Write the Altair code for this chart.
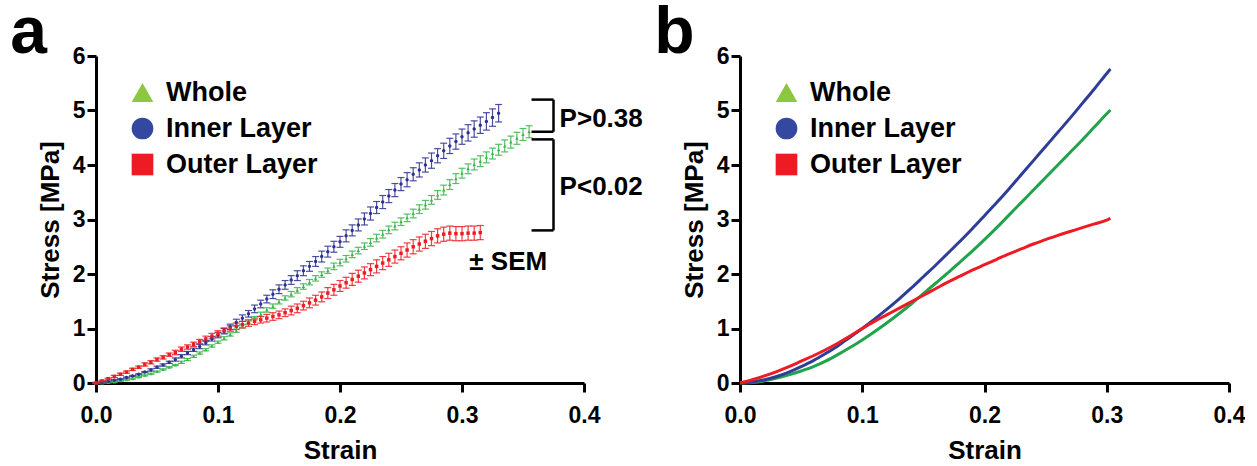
import altair as alt
import pandas as pd

FONT = "Liberation Sans"
series_names = ["Whole", "Inner Layer", "Outer Layer"]
colors_a = ["#3AB54A", "#2E3192", "#ED1C24"]
colors_b = ["#22A24A", "#2E3D98", "#ED1C24"]
colors_legend = ["#8DC63F", "#3548A0", "#ED1C24"]
shapes = ["triangle-up", "circle", "square"]

# ---- panel a: mean stress and SEM, sampled every 0.005 strain ----
whole_a = [0, 0.00, 0.01, 0.02, 0.04, 0.06, 0.08, 0.11, 0.14, 0.17,
           0.21, 0.25, 0.29, 0.33, 0.38, 0.43, 0.49, 0.55, 0.61, 0.68,
           0.75, 0.82, 0.89, 0.96, 1.04, 1.11, 1.19, 1.26, 1.34, 1.41,
           1.49, 1.56, 1.63, 1.70, 1.77, 1.85, 1.92, 1.99, 2.06, 2.14,
           2.21, 2.28, 2.36, 2.43, 2.51, 2.58, 2.66, 2.73, 2.81, 2.88,
           2.96, 3.03, 3.11, 3.19, 3.27, 3.36, 3.45, 3.54, 3.64, 3.75,
           3.85, 3.93, 4.01, 4.07, 4.14, 4.21, 4.28, 4.35, 4.42, 4.49,
           4.56, 4.61]
whole_sem = [0.01] * 10 + [
           0.01, 0.01, 0.01, 0.01, 0.02, 0.02, 0.02, 0.02, 0.02, 0.02,
           0.02, 0.03, 0.03, 0.03, 0.03, 0.03, 0.03, 0.04, 0.04, 0.04,
           0.04, 0.04, 0.05, 0.05, 0.05, 0.05, 0.05, 0.05, 0.05, 0.06,
           0.06, 0.06, 0.06, 0.06, 0.06, 0.07, 0.07, 0.07, 0.07, 0.07,
           0.07, 0.07, 0.08, 0.08, 0.08, 0.08, 0.08, 0.09, 0.09, 0.09,
           0.09, 0.09, 0.10, 0.10, 0.10, 0.10, 0.10, 0.11, 0.11, 0.11,
           0.11, 0.11]
inner_a = [0, 0.01, 0.03, 0.05, 0.07, 0.10, 0.13, 0.16, 0.20, 0.24,
           0.29, 0.33, 0.38, 0.43, 0.49, 0.55, 0.61, 0.67, 0.74, 0.81,
           0.88, 0.95, 1.03, 1.11, 1.19, 1.27, 1.36, 1.45, 1.54, 1.63,
           1.72, 1.80, 1.89, 1.97, 2.06, 2.14, 2.23, 2.32, 2.41, 2.50,
           2.59, 2.70, 2.80, 2.90, 3.01, 3.11, 3.22, 3.32, 3.43, 3.54,
           3.65, 3.73, 3.83, 3.91, 4.00, 4.08, 4.17, 4.26, 4.35, 4.43,
           4.52, 4.59, 4.66, 4.73, 4.80, 4.87, 4.95]
inner_sem = [0.01, 0.01, 0.01, 0.01, 0.01, 0.01, 0.01, 0.01, 0.01, 0.02,
             0.02, 0.02, 0.02, 0.03, 0.03, 0.03, 0.03, 0.04, 0.04, 0.04,
             0.05, 0.05, 0.05, 0.06, 0.06, 0.06, 0.07, 0.07, 0.07, 0.08,
             0.08, 0.08, 0.08, 0.09, 0.09, 0.09, 0.09, 0.10, 0.10, 0.10,
             0.10, 0.11, 0.10, 0.11, 0.11, 0.12, 0.11, 0.12, 0.12, 0.12,
             0.12, 0.13, 0.12, 0.13, 0.13, 0.14, 0.13, 0.14, 0.14, 0.14,
             0.14, 0.15, 0.15, 0.15, 0.16, 0.16, 0.16]
outer_a = [0, 0.04, 0.08, 0.12, 0.16, 0.20, 0.25, 0.29, 0.34, 0.38,
           0.43, 0.47, 0.52, 0.56, 0.62, 0.66, 0.71, 0.76, 0.81, 0.86,
           0.91, 0.96, 1.00, 1.04, 1.07, 1.10, 1.13, 1.16, 1.19, 1.22,
           1.25, 1.29, 1.33, 1.37, 1.42, 1.47, 1.52, 1.58, 1.65, 1.71,
           1.78, 1.84, 1.90, 1.96, 2.02, 2.08, 2.14, 2.20, 2.26, 2.32,
           2.38, 2.44, 2.50, 2.55, 2.60, 2.65, 2.70, 2.73, 2.75, 2.74,
           2.74, 2.75, 2.75, 2.76]
outer_sem = [0.01, 0.01, 0.01, 0.02, 0.02, 0.02, 0.02, 0.02, 0.03, 0.03,
             0.03, 0.03, 0.03, 0.04, 0.04, 0.04, 0.04, 0.04, 0.05, 0.05,
             0.05, 0.05, 0.05, 0.06, 0.06, 0.06, 0.06, 0.06, 0.07, 0.07,
             0.07, 0.07, 0.08, 0.08, 0.08, 0.09, 0.09, 0.09, 0.10, 0.10,
             0.10, 0.10, 0.11, 0.11, 0.11, 0.11, 0.12, 0.12, 0.12, 0.12,
             0.12, 0.13, 0.13, 0.13, 0.13, 0.13, 0.13, 0.13, 0.13, 0.13,
             0.13, 0.13, 0.13, 0.13]

# ---- panel b: fitted curves, sampled every 0.01 strain ----
strain_b = [0.00, 0.01, 0.02, 0.03, 0.04, 0.05, 0.06, 0.07, 0.08, 0.09,
            0.10, 0.11, 0.12, 0.13, 0.14, 0.15, 0.16, 0.17, 0.18, 0.19,
            0.20, 0.21, 0.22, 0.23, 0.24, 0.25, 0.26, 0.27, 0.28, 0.29,
            0.30, 0.303]
whole_b = [0.00, 0.01, 0.04, 0.09, 0.15, 0.22, 0.30, 0.40, 0.52, 0.65,
           0.79, 0.94, 1.10, 1.27, 1.45, 1.64, 1.83, 2.02, 2.22, 2.42,
           2.63, 2.85, 3.08, 3.31, 3.54, 3.77, 4.00, 4.23, 4.46, 4.70,
           4.94, 5.01]
inner_b = [0.00, 0.02, 0.06, 0.12, 0.20, 0.30, 0.41, 0.54, 0.68, 0.84,
           1.00, 1.17, 1.35, 1.54, 1.74, 1.95, 2.16, 2.38, 2.60, 2.83,
           3.07, 3.31, 3.56, 3.82, 4.08, 4.34, 4.60, 4.86, 5.13, 5.40,
           5.68, 5.76]
outer_b = [0.00, 0.06, 0.13, 0.21, 0.30, 0.40, 0.50, 0.61, 0.73, 0.86,
           1.00, 1.13, 1.25, 1.37, 1.49, 1.61, 1.73, 1.85, 1.96, 2.07,
           2.17, 2.27, 2.37, 2.46, 2.55, 2.63, 2.71, 2.78, 2.85, 2.92,
           2.99, 3.02]

# ---- annotations of panel a ----
bracket_labels = ["P>0.38", "P<0.02"]
bracket_top = [5.20, 4.47]
bracket_bottom = [4.61, 2.80]
sem_label = "± SEM"


def sampled(name, means, sems, step=0.005):
    # sampling grid of the measurement points
    return pd.DataFrame({
        "series": name,
        "strain": [round(i * step, 3) for i in range(len(means))],
        "stress": means,
        "sem": sems,
    })


df_a = pd.concat([
    sampled("Whole", whole_a, whole_sem),
    sampled("Inner Layer", inner_a, inner_sem),
    sampled("Outer Layer", outer_a, outer_sem),
], ignore_index=True)

df_b = pd.concat([
    pd.DataFrame({"series": "Whole", "strain": strain_b, "stress": whole_b}),
    pd.DataFrame({"series": "Inner Layer", "strain": strain_b, "stress": inner_b}),
    pd.DataFrame({"series": "Outer Layer", "strain": strain_b, "stress": outer_b}),
], ignore_index=True)

x_left, x_right = 0.357, 0.375
df_br = pd.DataFrame({
    "x": [x_left, x_left, x_right, x_left, x_left, x_right],
    "x2": [x_right, x_right, x_right, x_right, x_right, x_right],
    "y": [bracket_top[0], bracket_bottom[0], bracket_top[0],
          bracket_top[1], bracket_bottom[1], bracket_top[1]],
    "y2": [bracket_top[0], bracket_bottom[0], bracket_bottom[0],
           bracket_top[1], bracket_bottom[1], bracket_bottom[1]],
})
df_txt = pd.DataFrame({
    "x": [0.380, 0.380, 0.306],
    "y": [(bracket_top[0] + bracket_bottom[0]) / 2 - 0.07,
          (bracket_top[1] + bracket_bottom[1]) / 2 - 0.03, 2.22],
    "label": bracket_labels + [sem_label],
})

xscale = alt.Scale(domain=[0, 0.4], nice=False)
yscale = alt.Scale(domain=[0, 6], nice=False)
xaxis = alt.Axis(values=[0, 0.1, 0.2, 0.3, 0.4], format=".1f", title="Strain",
                 labelFlush=False)
yaxis = alt.Axis(values=[0, 1, 2, 3, 4, 5, 6], format="d", title="Stress [MPa]",
                 labelFlush=False)

legend_spec = alt.Legend(
    orient="none", legendX=33, legendY=23, title=None,
    labelFont=FONT, labelFontSize=27, labelFontWeight="bold",
    labelColor="black", symbolSize=470, symbolStrokeWidth=0,
    symbolOpacity=1, rowPadding=8, labelOffset=10, padding=0,
)

cscale_a = alt.Scale(domain=series_names, range=colors_a)
cscale_b = alt.Scale(domain=series_names, range=colors_b)
cscale_leg = alt.Scale(domain=series_names, range=colors_legend)
sscale = alt.Scale(domain=series_names, range=shapes)

X = alt.X("strain:Q", scale=xscale, axis=xaxis)


def Y(field):
    return alt.Y(field, scale=yscale, axis=yaxis)


def ghost(df):
    # invisible layer that only carries the legend
    return alt.Chart(df).mark_point(filled=True, opacity=0).encode(
        x=X, y=Y("stress:Q"),
        color=alt.Color("series:N", scale=cscale_leg, legend=legend_spec),
        shape=alt.Shape("series:N", scale=sscale, legend=legend_spec),
    )


base_a = alt.Chart(df_a).transform_calculate(
    lo="datum.stress - datum.sem", hi="datum.stress + datum.sem"
)
ca = alt.Color("series:N", scale=cscale_a, legend=None)
bars = base_a.mark_rule(strokeWidth=1.2, opacity=0.85).encode(
    x=X, y=Y("lo:Q"), y2="hi:Q", color=ca)
caps_lo = base_a.mark_tick(orient="horizontal", size=7, thickness=1.2, opacity=0.85).encode(
    x=X, y=Y("lo:Q"), color=ca)
caps_hi = base_a.mark_tick(orient="horizontal", size=7, thickness=1.2, opacity=0.85).encode(
    x=X, y=Y("hi:Q"), color=ca)
pts = base_a.mark_point(filled=True, size=12, opacity=1).encode(
    x=X, y=Y("stress:Q"), color=ca,
    shape=alt.Shape("series:N", scale=sscale, legend=None),
)
brackets = alt.Chart(df_br).mark_rule(strokeWidth=2.5, color="black").encode(
    x=alt.X("x:Q", scale=xscale, axis=xaxis), x2="x2:Q",
    y=Y("y:Q"), y2="y2:Q",
)
texts = alt.Chart(df_txt).mark_text(
    align="left", baseline="middle", font=FONT, fontSize=26, fontWeight="bold", color="black"
).encode(
    x=alt.X("x:Q", scale=xscale, axis=xaxis), y=Y("y:Q"), text="label:N",
)

title_kw = dict(anchor="start", fontSize=66, fontWeight="bold", font=FONT,
                color="black", offset=-22)

panel_a = alt.layer(bars, caps_lo, caps_hi, pts, brackets, texts, ghost(df_a)).resolve_scale(
    color="independent", shape="independent"
).properties(
    width=488, height=327,
    title=alt.TitleParams("a", dx=-27, **title_kw),
)

lines = alt.Chart(df_b).mark_line(strokeWidth=3, interpolate="monotone").encode(
    x=X, y=Y("stress:Q"),
    color=alt.Color("series:N", scale=cscale_b, legend=None),
)
panel_b = alt.layer(lines, ghost(df_b)).resolve_scale(
    color="independent", shape="independent"
).properties(
    width=489, height=327,
    title=alt.TitleParams("b", dx=-27, **title_kw),
)

chart = alt.hconcat(panel_a, panel_b, spacing=156, bounds="flush").resolve_scale(
    color="independent", shape="independent"
).properties(
    padding={"left": 10, "top": 0, "right": 0, "bottom": 0}
).configure_view(strokeWidth=0).configure_axis(
    grid=False,
    domainColor="black", domainWidth=3,
    tickColor="black", tickWidth=3, tickSize=9,
    labelFont=FONT, labelFontSize=23, labelFontWeight="bold", labelColor="black",
    titleFont=FONT, titleFontSize=26, titleFontWeight="bold", titleColor="black",
).configure_axisY(titlePadding=9, labelPadding=2).configure_axisX(
    titlePadding=10, labelPadding=12
)

chart.save("out.html", embed_options={"renderer": "svg", "actions": False})
